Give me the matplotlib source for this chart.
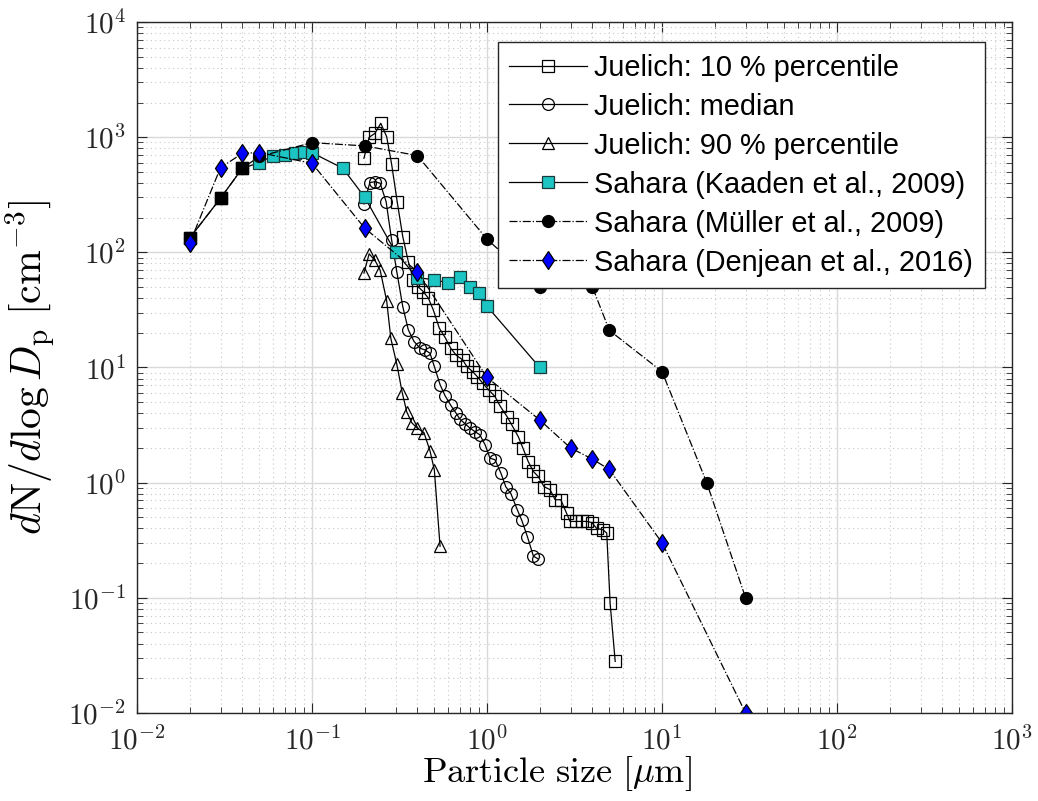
import matplotlib
matplotlib.use('agg')
import matplotlib.pyplot as plt
from matplotlib.ticker import LogLocator, NullFormatter, FuncFormatter
import numpy as np

plt.rcParams['mathtext.fontset'] = 'cm'
plt.rcParams['font.family'] = ['Liberation Sans', 'DejaVu Sans']

# Juelich: 10 % percentile
j10_x = [0.198, 0.212, 0.229, 0.247, 0.267, 0.285, 0.307, 0.330, 0.355, 0.38,
         0.405, 0.432, 0.462, 0.493, 0.534, 0.575, 0.62, 0.666, 0.727, 0.766,
         0.828, 0.881, 0.945, 1.02, 1.11, 1.19, 1.30, 1.38, 1.51, 1.60, 1.72,
         1.84, 1.96, 2.12, 2.29, 2.45, 2.64, 2.85, 2.98, 3.22, 3.48, 3.71, 3.97,
         4.23, 4.58, 4.83, 5.05, 5.4]
j10_y = [656, 998, 1080, 1321, 1010, 582, 272, 137, 83, 58,
         50, 45.6, 40, 31.6, 21.9, 18.3, 14.7, 12.8, 11.6, 10.2,
         9.2, 8.3, 7.3, 6.4, 5.6, 4.6, 3.75, 3.2, 2.5, 2.01, 1.52,
         1.25, 1.13, 0.92, 0.87, 0.71, 0.71, 0.54, 0.46, 0.46, 0.46, 0.46, 0.45,
         0.40, 0.39, 0.365, 0.09, 0.028]

# Juelich: median
jmed_x = [0.198, 0.214, 0.229, 0.245, 0.265, 0.285, 0.305, 0.330, 0.355, 0.383,
          0.414, 0.442, 0.472, 0.50, 0.539, 0.575, 0.62, 0.666, 0.70, 0.749,
          0.80, 0.854, 0.91, 0.975, 1.04, 1.11, 1.20, 1.28, 1.37, 1.49, 1.58,
          1.70, 1.84, 1.96]
jmed_y = [263, 403, 411, 398, 276, 128, 68, 33.8, 21.2, 16.8,
          14.7, 14.2, 13.3, 10.2, 7.1, 5.7, 4.7, 4.0, 3.56, 3.24,
          2.97, 2.77, 2.6, 2.13, 1.63, 1.58, 1.21, 0.92, 0.80, 0.58, 0.47,
          0.34, 0.23, 0.217]

# Juelich: 90 % percentile
j90_x = [0.198, 0.212, 0.229, 0.245, 0.267, 0.282, 0.305, 0.328, 0.348, 0.372,
         0.40, 0.436, 0.472, 0.50, 0.539]
j90_y = [66, 97, 85, 70, 38, 17.9, 10.7, 6.0, 4.1, 3.3,
         2.97, 2.72, 1.89, 1.29, 0.28]

# Sahara (Kaaden et al., 2009)
kaa_x = [0.02, 0.03, 0.04, 0.05, 0.06, 0.07, 0.08, 0.09, 0.1, 0.15, 0.2, 0.3,
         0.4, 0.5, 0.6, 0.7, 0.8, 0.9, 1.0, 2.0]
kaa_y = [133, 295, 537, 600, 692, 700, 733, 748, 733, 537, 301, 100,
         60, 58, 54, 61, 50, 44, 34, 10]

# Sahara (Mueller et al., 2009)
mul_x = [0.02, 0.03, 0.04, 0.05, 0.1, 0.2, 0.4, 1, 2, 3, 4, 5, 10, 18, 30]
mul_y = [133, 295, 537, 680, 896, 840, 692, 130, 50, 55, 50, 21, 9.2, 1.0, 0.1]

# Sahara (Denjean et al., 2016)
den_x = [0.02, 0.03, 0.04, 0.05, 0.1, 0.2, 0.4, 1, 2, 3, 4, 5, 10, 30]
den_y = [120, 543, 724, 735, 593, 162, 68, 8.2, 3.5, 2.0, 1.6, 1.3, 0.3, 0.01]

fig = plt.figure(figsize=(10.38, 8.01), dpi=100)
ax = fig.add_axes([0.132, 0.110, 0.843, 0.8625])

lw = 0.9
ax.plot(j10_x, j10_y, '-s', color='k', lw=lw, ms=8, mfc='none', mew=0.9,
        label='Juelich: 10 % percentile')
ax.plot(jmed_x, jmed_y, '-o', color='k', lw=lw, ms=8.5, mfc='none', mew=0.9,
        label='Juelich: median')
ax.plot(j90_x, j90_y, '-^', color='k', lw=lw, ms=9, mfc='none', mew=0.9,
        label='Juelich: 90 % percentile')
ax.plot(kaa_x, kaa_y, '-s', color='k', lw=lw, ms=8, mfc='#1cc4c4', mec='#1a3a3a',
        mew=0.9, label='Sahara (Kaaden et al., 2009)')
ax.plot(mul_x, mul_y, '-.o', color='k', lw=lw, ms=8.5, mfc='k', mec='k',
        label='Sahara (Müller et al., 2009)')
ax.plot(kaa_x[:3], kaa_y[:3], 's', color='k', ms=8, mfc='k', mec='k')
ax.plot(den_x, den_y, '-.d', color='k', lw=lw, ms=9.5, mfc='#0000ff', mec='k',
        mew=0.9, label='Sahara (Denjean et al., 2016)')

ax.set_xscale('log')
ax.set_yscale('log')
ax.set_xlim(1e-2, 1e3)
ax.set_ylim(1e-2, 1e4)

ax.xaxis.set_major_locator(LogLocator(base=10, numticks=10))
ax.yaxis.set_major_locator(LogLocator(base=10, numticks=10))
ax.xaxis.set_minor_locator(LogLocator(base=10, subs=range(2, 10), numticks=20))
ax.yaxis.set_minor_locator(LogLocator(base=10, subs=range(2, 10), numticks=20))
ax.xaxis.set_minor_formatter(NullFormatter())
ax.yaxis.set_minor_formatter(NullFormatter())
pow_fmt = FuncFormatter(lambda v, p: r'$10^{%d}$' % int(round(np.log10(v))))
ax.xaxis.set_major_formatter(pow_fmt)
ax.yaxis.set_major_formatter(pow_fmt)

ax.grid(True, which='major', color='#d9d9d9', lw=1.0, ls='-')
ax.grid(True, which='minor', color='#c8c8c8', lw=0.8, ls=(0, (1, 3)))
ax.set_axisbelow(True)

ax.tick_params(which='both', direction='in', top=True, right=True, colors='#262626')
ax.tick_params(which='major', length=7, width=0.8, labelsize=21)
ax.tick_params(axis='x', which='major', pad=10)
ax.tick_params(axis='y', which='major', pad=8)
ax.tick_params(which='minor', length=4, width=0.6)
for s in ax.spines.values():
    s.set_color('#262626')
    s.set_linewidth(1.0)

ax.set_xlabel(r'$\mathrm{Particle\ size}\ [\mu\mathrm{m}]$', fontsize=26)
ax.xaxis.set_label_coords(0.48, -0.06)
ax.set_ylabel(r'$d\mathrm{N}/d\log D_\mathrm{p}\ [\mathrm{cm}^{-3}]$', fontsize=30, labelpad=8)

leg = ax.legend(loc='upper right', bbox_to_anchor=(0.969, 0.971), fontsize=20.8,
                frameon=True, fancybox=False, edgecolor='#262626', framealpha=1,
                handlelength=2.7, borderpad=0.4, labelspacing=0.38, handletextpad=0.25,
                borderaxespad=0.0)
leg.get_frame().set_linewidth(1.0)

fig.savefig('out.png', dpi=100)
